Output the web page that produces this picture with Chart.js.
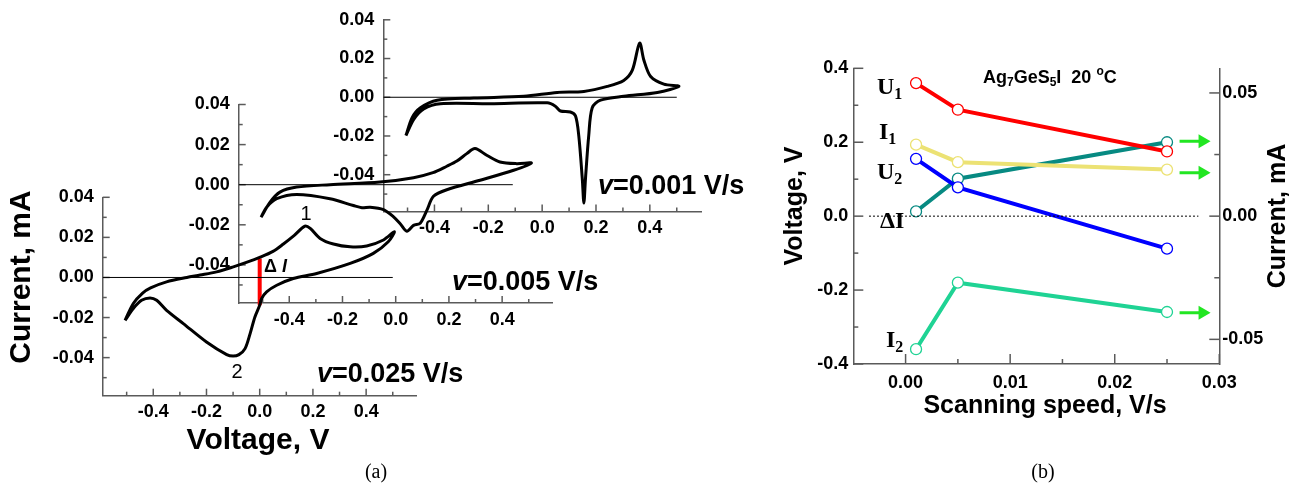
<!DOCTYPE html>
<html>
<head>
<meta charset="utf-8">
<script src="https://cdn.jsdelivr.net/npm/chart.js@4"></script>
<style>
  body { margin: 0; background: #fff; }
  #wrap { position: relative; width: 1303px; height: 490px; }
  #wrap canvas { position: absolute; left: 0; top: 0; }
</style>
</head>
<body>
<div id="wrap">
  <canvas id="speed-chart" width="1303" height="490"></canvas>
  <canvas id="cv-001" width="1303" height="490"></canvas>
  <canvas id="cv-005" width="1303" height="490"></canvas>
  <canvas id="cv-025" width="1303" height="490"></canvas>
</div>
<script>
// Cyclic voltammograms (a) and peak parameters vs scan rate (b)

// ---- (a) CV loops: voltage (V) / current (mA), traced around the loop ----
const v025 = [-0.506, -0.475, -0.44, -0.41, -0.35, -0.274, -0.224, -0.162, -0.099, -0.05, 0, 0.05, 0.089, 0.13, 0.17, 0.19, 0.227, 0.277, 0.34, 0.402, 0.465, 0.506,
              0.483, 0.427, 0.34, 0.214, 0.126, 0.064, 0.026, 0.0075, 0, -0.018, -0.036, -0.055, -0.078, -0.1, -0.124, -0.2, -0.287, -0.35, -0.387, -0.412, -0.444, -0.475, -0.506];
const i025 = [-0.0214, -0.013, -0.0078, -0.0052, -0.0022, 0.0, 0.0012, 0.0028, 0.0053, 0.0075, 0.0100, 0.0130, 0.0167, 0.0210, 0.0256, 0.0245, 0.0195, 0.0167, 0.0153, 0.0157, 0.0187, 0.0228,
              0.0178, 0.0120, 0.0070, 0.0020, -0.0005, -0.0039, -0.0072, -0.0105, -0.0139, -0.0197, -0.0280, -0.0355, -0.0385, -0.0392, -0.0385, -0.0322, -0.0230, -0.0164, -0.0114, -0.0102, -0.0114, -0.0155, -0.0214];

const v005 = [-0.506, -0.472, -0.435, -0.372, -0.247, -0.059, 0.067, 0.14, 0.192, 0.23, 0.267, 0.298, 0.342, 0.392, 0.455, 0.51,
              0.443, 0.317, 0.192, 0.142, 0.117, 0.092, 0.067, 0.042, 0.017, -0.009, -0.046, -0.096, -0.127, -0.159, -0.247, -0.372, -0.447, -0.485, -0.506];
const i005 = [-0.0162, -0.0087, -0.0037, -0.0012, 0.0, 0.0013, 0.0035, 0.0060, 0.0092, 0.0118, 0.0155, 0.0180, 0.0147, 0.0113, 0.0105, 0.0108,
              0.0072, 0.0022, -0.0025, -0.0058, -0.0128, -0.0192, -0.0203, -0.0232, -0.0195, -0.0159, -0.0124, -0.0112, -0.0115, -0.0104, -0.0070, -0.0049, -0.0070, -0.0112, -0.0162];

const v001 = [-0.506, -0.483, -0.452, -0.39, -0.254, -0.068, 0.056, 0.155, 0.242, 0.303, 0.335, 0.362, 0.378, 0.403, 0.452, 0.508,
              0.428, 0.303, 0.217, 0.186, 0.173, 0.161, 0.155, 0.149, 0.136, 0.124, 0.105, 0.068, 0.049, 0.019, -0.192, -0.378, -0.44, -0.477, -0.506];
const i001 = [-0.0198, -0.0105, -0.0054, -0.0015, -0.0004, 0.0005, 0.0025, 0.0030, 0.0056, 0.0087, 0.0140, 0.0280, 0.0191, 0.0107, 0.0068, 0.0056,
              0.0025, 0.0005, -0.0015, -0.0054, -0.0198, -0.0419, -0.0546, -0.0419, -0.0198, -0.0097, -0.0076, -0.0071, -0.0046, -0.0029, -0.0033, -0.0033, -0.0060, -0.0114, -0.0198];

// zero-current reference lines (V span) and the delta-I bar at 0 V
const zero025 = [-0.59, 0.5];
const zero005 = [-0.59, 0.44];
const zero001 = [-0.59, 0.5];
const deltaIBar = [-0.0139, 0.0095];

const cvTickX = [-0.5, -0.4, -0.3, -0.2, -0.1, 0, 0.1, 0.2, 0.3, 0.4, 0.5];
const cvLabelX = [-0.4, -0.2, 0, 0.2, 0.4];
const cvTickY = [-0.05, -0.04, -0.03, -0.02, -0.01, 0, 0.01, 0.02, 0.03, 0.04];
const cvLabelY = [-0.04, -0.02, 0, 0.02, 0.04];

// ---- (b) values vs scanning speed ----
const speeds = [0.001, 0.005, 0.025];
const u1 = [0.36, 0.288, 0.175];      // V
const u2 = [0.155, 0.078, -0.088];    // V
const i1 = [0.029, 0.0219, 0.0189];   // mA
const dI = [0.0019, 0.0152, 0.030];   // mA
const i2 = [-0.054, -0.027, -0.0389]; // mA
const arrowSpan = [0.0262, 0.0284];
const arrowLevels = [0.0304, 0.0176, -0.0392]; // mA
const zeroSpan = [-0.0035, 0.028];

const speedTicks = [0, 0.005, 0.01, 0.015, 0.02, 0.025, 0.03];
const speedLabels = [0, 0.01, 0.02, 0.03];
const voltTicks = [-0.4, -0.3, -0.2, -0.1, 0, 0.1, 0.2, 0.3, 0.4];
const voltLabels = [-0.4, -0.2, 0, 0.2, 0.4];
const currTicks = [-0.05, -0.025, 0, 0.025, 0.05];
const currLabels = [-0.05, 0, 0.05];

const W = 1303, H = 490;
const SANS = "'Liberation Sans', Arial, Helvetica, sans-serif";
const SERIF = "'Liberation Serif', 'Times New Roman', serif";
const AXIS_COLOR = '#5a5a5a';
const TICK_FONT = { family: SANS, size: 18, weight: 'bold' };

const sans = (size, style = 'bold') => `${style} ${size}px ${SANS}`;
const serif = (size, style = 'bold') => `${style} ${size}px ${SERIF}`;

function pairs(xs, ys) {
    return xs.map((x, i) => ({ x: x, y: ys[i] }));
}

/**
 * Inward tick marks, long where the tick has a label
 */
function inwardTicks(major, minor) {
    return {
        id: 'inwardTicks',
        beforeDatasetsDraw(chart) {
            const ctx = chart.ctx;
            const a = chart.chartArea;
            ctx.save();
            ctx.strokeStyle = AXIS_COLOR;
            ctx.lineWidth = 1.5;
            Object.values(chart.scales).forEach(scale => {
                scale.ticks.forEach(t => {
                    const len = t.label ? major : minor;
                    const p = scale.getPixelForValue(t.value);
                    ctx.beginPath();
                    if (scale.isHorizontal()) {
                        ctx.moveTo(p, a.bottom);
                        ctx.lineTo(p, a.bottom - len);
                    } else if (scale.position === 'left') {
                        ctx.moveTo(a.left, p);
                        ctx.lineTo(a.left + len, p);
                    } else {
                        ctx.moveTo(a.right, p);
                        ctx.lineTo(a.right - len, p);
                    }
                    ctx.stroke();
                });
            });
            ctx.restore();
        }
    };
}

/**
 * Free text (titles, labels, sub/superscripts)
 */
function notes(items) {
    return {
        id: 'notes',
        afterDraw(chart) {
            const ctx = chart.ctx;
            items.forEach(item => {
                ctx.save();
                ctx.translate(item.x, item.y);
                if (item.rotate) ctx.rotate(item.rotate);
                ctx.fillStyle = '#000';
                ctx.textBaseline = 'middle';
                ctx.textAlign = 'left';
                const widths = item.parts.map(p => { ctx.font = p.font; return ctx.measureText(p.text).width; });
                const total = widths.reduce((s, w) => s + w, 0);
                let x = item.align === 'center' ? -total / 2 : 0;
                item.parts.forEach((p, i) => {
                    ctx.font = p.font;
                    ctx.fillText(p.text, x, p.dy || 0);
                    x += widths[i];
                });
                ctx.restore();
            });
        }
    };
}

function axis(opts) {
    return {
        type: 'linear',
        position: opts.position,
        min: opts.min,
        max: opts.max,
        afterFit: s => { if (s.isHorizontal()) s.height = 40; else s.width = 60; },
        afterBuildTicks: s => { s.ticks = opts.ticks.map(v => ({ value: v })); },
        grid: { display: false, drawTicks: false },
        border: { display: true, color: AXIS_COLOR, width: 1.5 },
        ticks: {
            autoSkip: false,
            maxRotation: 0,
            padding: opts.padding,
            color: '#000',
            font: TICK_FONT,
            callback: v => opts.labels.includes(v) ? v.toFixed(opts.digits) : ''
        }
    };
}

function cvChart(id, area, vs, is, zero, extra, texts) {
    const datasets = [
        { data: pairs(zero, [0, 0]), borderColor: '#000', borderWidth: 1, tension: 0 },
        { data: pairs(vs, is), borderColor: '#000', borderWidth: 3, tension: 0.3 }
    ].concat(extra);
    datasets.forEach(d => { d.showLine = true; d.pointRadius = 0; });

    return new Chart(document.getElementById(id), {
        type: 'scatter',
        data: { datasets },
        options: {
            responsive: false,
            animation: false,
            layout: { padding: { left: area.l - 60, right: W - area.r, top: area.t, bottom: H - area.b - 40 } },
            plugins: { legend: { display: false }, tooltip: { enabled: false } },
            scales: {
                x: axis({ position: 'bottom', min: -0.59, max: 0.59, ticks: cvTickX, labels: cvLabelX, digits: 1, padding: 6 }),
                y: axis({ position: 'left', min: -0.059, max: 0.04, ticks: cvTickY, labels: cvLabelY, digits: 2, padding: 9 })
            }
        },
        plugins: [inwardTicks(7, 4), notes(texts)]
    });
}

const vLabel = (x, y, rate) => ({ x, y, parts: [{ text: 'v', font: sans(27, 'italic bold') }, { text: '=' + rate + ' V/s', font: sans(27) }] });

cvChart('cv-001', { l: 383.3, r: 701, t: 15.7, b: 211.5 }, v001, i001, zero001, [], []);
cvChart('cv-005', { l: 238.7, r: 552.7, t: 104.5, b: 303 }, v005, i005, zero005, [], []);
cvChart('cv-025', { l: 102.7, r: 416.7, t: 197.3, b: 395.7 }, v025, i025, zero025,
    [{ data: pairs([0, 0], deltaIBar), borderColor: '#ff0000', borderWidth: 4, tension: 0 }],
    [
        { x: 22, y: 277, rotate: -Math.PI / 2, align: 'center', parts: [{ text: 'Current, mA', font: sans(30) }] },
        { x: 258, y: 441, align: 'center', parts: [{ text: 'Voltage, V', font: sans(30) }] },
        { x: 306, y: 214, align: 'center', parts: [{ text: '1', font: sans(20, 'normal') }] },
        { x: 237, y: 372, align: 'center', parts: [{ text: '2', font: sans(20, 'normal') }] },
        { x: 264, y: 267, parts: [{ text: 'Δ ', font: sans(18) }, { text: 'I', font: sans(18, 'italic bold') }] },
        vLabel(317, 375, '0.025'),
        vLabel(452, 283, '0.005'),
        vLabel(598, 187, '0.001'),
        { x: 376, y: 473, align: 'center', parts: [{ text: '(a)', font: serif(20, 'normal') }] }
    ]);

// ---- (b) ----
const areaB = { l: 853.3, r: 1219.3, t: 68.3, b: 364 };

function series(values, axisId, color) {
    return {
        data: pairs(speeds, values),
        yAxisID: axisId,
        showLine: true,
        borderColor: color,
        borderWidth: 4,
        tension: 0,
        pointRadius: 5.5,
        pointBorderWidth: 1.3,
        pointBorderColor: color,
        pointBackgroundColor: '#fff'
    };
}

function arrow(level) {
    return {
        data: pairs(arrowSpan, [level, level]),
        yAxisID: 'y1',
        showLine: true,
        borderColor: '#22e622',
        borderWidth: 3,
        pointStyle: 'triangle',
        rotation: 90,
        pointRadius: [0, 8],
        pointBorderWidth: 0,
        pointBackgroundColor: '#22e622'
    };
}

const chem = [
    { text: 'Ag', font: sans(18) }, { text: '7', font: sans(12), dy: 5 },
    { text: 'GeS', font: sans(18) }, { text: '5', font: sans(12), dy: 5 },
    { text: 'I  20 ', font: sans(18) }, { text: 'o', font: sans(12), dy: -6 },
    { text: 'C', font: sans(18) }
];
const sym = (x, y, main, sub) => {
    const parts = [{ text: main, font: serif(24) }];
    if (sub) parts.push({ text: sub, font: serif(16), dy: 7 });
    return { x, y, parts };
};

new Chart(document.getElementById('speed-chart'), {
    type: 'scatter',
    data: {
        datasets: [
            { data: pairs(zeroSpan, [0, 0]), yAxisID: 'y', showLine: true, borderColor: '#000', borderWidth: 1, borderDash: [2, 2], pointRadius: 0 },
            series(u1, 'y', '#ff0000'),
            series(i1, 'y1', '#ece274'),
            series(u2, 'y', '#0000ff'),
            series(i2, 'y1', '#1fd394'),
            series(dI, 'y1', '#078a82'),
            ...arrowLevels.map(arrow)
        ]
    },
    options: {
        responsive: false,
        animation: false,
        layout: { padding: { left: areaB.l - 60, right: W - areaB.r - 60, top: areaB.t, bottom: H - areaB.b - 40 } },
        plugins: { legend: { display: false }, tooltip: { enabled: false } },
        scales: {
            x: axis({ position: 'bottom', min: -0.005, max: 0.03, ticks: speedTicks, labels: speedLabels, digits: 2, padding: 8 }),
            y: axis({ position: 'left', min: -0.4, max: 0.4, ticks: voltTicks, labels: voltLabels, digits: 1, padding: 5 }),
            y1: axis({ position: 'right', min: -0.06, max: 0.06, ticks: currTicks, labels: currLabels, digits: 2, padding: 3 })
        }
    },
    plugins: [inwardTicks(10, 5), notes([
        { x: 795, y: 206, rotate: -Math.PI / 2, align: 'center', parts: [{ text: 'Voltage, V', font: sans(25) }] },
        { x: 1278, y: 216, rotate: -Math.PI / 2, align: 'center', parts: [{ text: 'Current, mA', font: sans(25) }] },
        { x: 1045, y: 406, align: 'center', parts: [{ text: 'Scanning speed, V/s', font: sans(25) }] },
        { x: 983, y: 78, parts: chem },
        sym(877, 88, 'U', '1'),
        sym(879, 133, 'I', '1'),
        sym(877, 173, 'U', '2'),
        sym(880, 222, 'ΔI'),
        sym(886, 341, 'I', '2'),
        { x: 1043, y: 473, align: 'center', parts: [{ text: '(b)', font: serif(20, 'normal') }] }
    ])]
});
</script>
</body>
</html>
